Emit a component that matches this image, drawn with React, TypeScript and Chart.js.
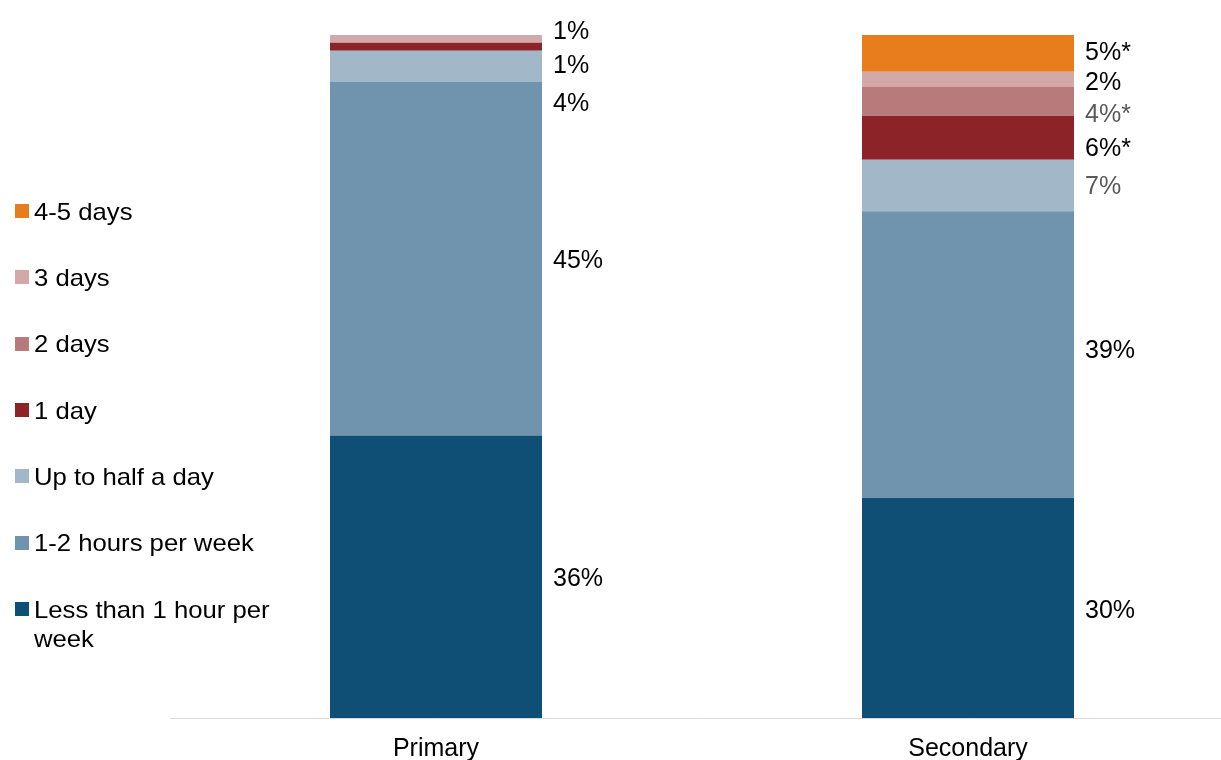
import React, { useEffect, useRef } from 'react';
import { Chart, registerables } from 'chart.js';

Chart.register(...registerables);

// ---- data ----
const categories = ['Primary', 'Secondary'];
const seriesNames = [
  'Less than 1 hour per week',
  '1-2 hours per week',
  'Up to half a day',
  '1 day',
  '2 days',
  '3 days',
  '4-5 days',
];
const lessThanOneHour = [36, 30];
const oneToTwoHours = [45, 39];
const upToHalfDay = [4, 7];
const oneDay = [1, 6];
const twoDays = [0, 4];
const threeDays = [1, 2];
const fourToFiveDays = [0, 5];
// significance markers shown after each value label
const lessThanOneHourMarks = ['', ''];
const oneToTwoHoursMarks = ['', ''];
const upToHalfDayMarks = ['', ''];
const oneDayMarks = ['', '*'];
const twoDaysMarks = ['', '*'];
const threeDaysMarks = ['', ''];
const fourToFiveDaysMarks = ['', '*'];

const seriesValues = [lessThanOneHour, oneToTwoHours, upToHalfDay, oneDay, twoDays, threeDays, fourToFiveDays];
const seriesMarks = [
  lessThanOneHourMarks,
  oneToTwoHoursMarks,
  upToHalfDayMarks,
  oneDayMarks,
  twoDaysMarks,
  threeDaysMarks,
  fourToFiveDaysMarks,
];

// ---- styles ----
const FONT = '"Liberation Sans", Arial, Helvetica, sans-serif';
const seriesColors = ['#104f75', '#7094ae', '#a2b8c8', '#8b2329', '#b97a7c', '#d3a8a9', '#e87d1e'];
const DARK = '#000000';
const GREY = '#595959';
const labelColors = [
  [DARK, DARK],
  [DARK, DARK],
  [DARK, GREY],
  [DARK, DARK],
  [DARK, GREY],
  [DARK, DARK],
  [DARK, DARK],
];
// vertical nudges (px) of the value labels, as in the original layout
const labelShift = [
  [2, 3],
  [2, -3],
  [38, 2],
  [19, 11],
  [0, 14],
  [-7, 4],
  [0, 0],
];

const totals = categories.map((_, i) => seriesValues.reduce((s, arr) => s + arr[i], 0));

const labelPlugin = {
  id: 'segmentLabels',
  afterDatasetsDraw(chart: any) {
    const ctx = chart.ctx;
    ctx.save();
    ctx.font = `25px ${FONT}`;
    ctx.textAlign = 'left';
    ctx.textBaseline = 'middle';
    chart.data.datasets.forEach((_ds: any, di: number) => {
      const meta = chart.getDatasetMeta(di);
      meta.data.forEach((bar: any, i: number) => {
        const raw = seriesValues[di][i];
        if (!raw) return;
        const p = bar.getProps(['x', 'y', 'base', 'width'], true);
        ctx.fillStyle = labelColors[di][i];
        ctx.fillText(`${raw}%${seriesMarks[di][i]}`, p.x + p.width / 2 + 11, (p.y + p.base) / 2 + labelShift[di][i]);
      });
    });
    ctx.restore();
  },
};

export default function App() {
  const canvasRef = useRef<HTMLCanvasElement | null>(null);

  useEffect(() => {
    const canvas = canvasRef.current;
    if (!canvas) return;
    const chart = new Chart(canvas, {
      type: 'bar',
      data: {
        labels: categories,
        datasets: seriesNames.map((name, si) => ({
          label: name,
          data: seriesValues[si].map((v, i) => (v / totals[i]) * 100),
          backgroundColor: seriesColors[si],
          borderWidth: 0,
          barPercentage: 0.3985,
          categoryPercentage: 1,
        })),
      },
      options: {
        animation: false,
        responsive: false,
        maintainAspectRatio: false,
        layout: { padding: { left: 170, right: 6, top: 35, bottom: 0 } },
        plugins: { legend: { display: false }, tooltip: { enabled: false } },
        scales: {
          x: {
            stacked: true,
            grid: { display: false, drawTicks: false },
            border: { display: true, color: '#d9d9d9', width: 1 },
            ticks: { color: '#000000', font: { family: FONT, size: 25 }, padding: 16 },
            afterFit: (scale: any) => {
              scale.height = 42;
            },
          },
          y: { stacked: true, display: false, min: 0, max: 100 },
        },
      },
      plugins: [labelPlugin],
    } as any);
    return () => chart.destroy();
  }, []);

  const legendItems = seriesNames.map((name, i) => ({ name, color: seriesColors[i] })).reverse();

  return (
    <div
      style={{
        position: 'absolute',
        left: 0,
        top: 0,
        width: 1221,
        height: 760,
        overflow: 'hidden',
        background: '#ffffff',
      }}
    >
      <canvas ref={canvasRef} width={1240} height={760} style={{ display: 'block', width: 1240, height: 760 }} />
      {legendItems.map((item, k) => {
        const cy = 211 + k * 66.3;
        return (
          <React.Fragment key={item.name}>
            <div
              style={{
                position: 'absolute',
                left: 15,
                top: cy - 7,
                width: 14,
                height: 14,
                background: item.color,
              }}
            />
            <div
              style={{
                position: 'absolute',
                left: 34,
                top: cy - 14.2,
                width: 240,
                fontFamily: FONT,
                fontSize: 24,
                lineHeight: '29px',
                color: '#000000',
                transform: 'scaleX(1.07)',
                transformOrigin: 'left top',
              }}
            >
              {item.name}
            </div>
          </React.Fragment>
        );
      })}
    </div>
  );
}
